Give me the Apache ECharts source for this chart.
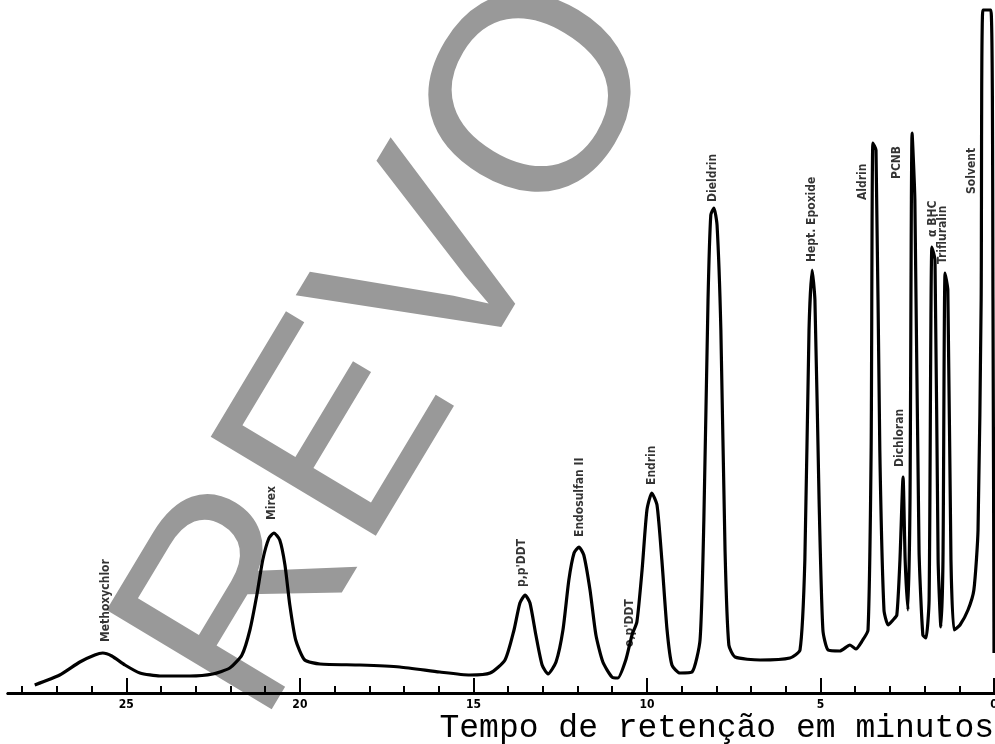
<!DOCTYPE html>
<html>
<head>
<meta charset="utf-8">
<script src="https://cdn.jsdelivr.net/npm/echarts@6/dist/echarts.min.js"></script>
<style>
html,body{margin:0;padding:0;background:#fff;}
#chart{width:995px;height:744px;}
</style>
</head>
<body>
<div id="chart"></div>
<script>
// Retention time (minutes) and detector signal
const times = [27.64, 26.92, 26.34, 25.91, 25.68, 25.42, 25.04, 24.61, 24.03, 23.17, 22.51, 22.02, 21.67, 21.44, 21.24, 21.07, 20.89, 20.75, 20.58, 20.43, 20.29, 20.12, 19.86, 19.42, 18.27, 17.12, 15.97, 15.10, 14.52, 14.09, 13.83, 13.66, 13.51, 13.37, 13.20, 13.02, 12.85, 12.62, 12.42, 12.25, 12.10, 11.96, 11.82, 11.64, 11.47, 11.27, 11.01, 10.84, 10.61, 10.43, 10.29, 10.14, 10.00, 9.86, 9.71, 9.57, 9.42, 9.28, 9.05, 8.70, 8.47, 8.36, 8.24, 8.16, 8.07, 7.98, 7.87, 7.75, 7.64, 7.46, 6.74, 5.88, 5.59, 5.45, 5.33, 5.24, 5.16, 5.04, 4.93, 4.78, 4.44, 4.15, 3.98, 3.80, 3.63, 3.54, 3.49, 3.40, 3.29, 3.17, 3.05, 2.91, 2.80, 2.71, 2.62, 2.56, 2.48, 2.42, 2.36, 2.28, 2.16, 2.05, 1.96, 1.87, 1.79, 1.70, 1.61, 1.53, 1.47, 1.41, 1.33, 1.24, 1.15, 0.98, 0.75, 0.58, 0.46, 0.37, 0.32, 0.09, 0.03, 0.00];
const signal = [8, 18, 31, 38, 40, 37, 28, 20, 17, 17, 19, 25, 38, 63, 98, 133, 155, 160, 153, 128, 88, 53, 33, 29, 28, 26, 21, 18, 20, 33, 63, 90, 98, 90, 58, 28, 19, 31, 63, 113, 140, 146, 138, 103, 58, 31, 16, 15, 33, 58, 71, 123, 183, 200, 188, 133, 63, 28, 20, 21, 53, 173, 393, 478, 485, 468, 363, 143, 48, 36, 33, 35, 43, 133, 363, 423, 393, 193, 63, 43, 42, 48, 44, 52, 63, 243, 550, 543, 243, 83, 68, 73, 78, 133, 216, 133, 83, 193, 560, 493, 143, 58, 55, 93, 446, 433, 133, 66, 133, 420, 403, 133, 63, 68, 83, 103, 163, 393, 683, 683, 393, 40];

// Peak annotations (compound name, retention time, height of label foot)
const peakNames = ['Methoxychlor', 'Mirex', "p,p'DDT", 'Endosulfan II', "o,p'DDT", 'Endrin', 'Dieldrin', 'Hept. Epoxide', 'Aldrin', 'PCNB', 'Dichloran', 'α BHC', 'Trifluralin', 'Solvent'];
const peakTimes = [25.59, 20.81, 13.60, 11.93, 10.49, 9.86, 8.10, 5.24, 3.78, 2.80, 2.71, 1.76, 1.47, 0.63];
const peakLabelHeights = [48, 170, 103, 153, 43, 205, 488, 428, 490, 511, 223, 453, 426, 496];

// Axis ticks
const majorTicks = [0, 5, 10, 15, 20, 25];
const minorTicks = [0, 1, 2, 3, 4, 5, 6, 7, 8, 9, 10, 11, 12, 13, 14, 15, 16, 17, 18, 19, 20, 21, 22, 23, 24, 25, 26, 27, 28];

const axisTitle = 'Tempo de retenção em minutos';
const watermark = 'REVO';

const traceData = times.map((t, i) => [t, signal[i]]);
const labelData = peakNames.map((n, i) => ({ name: n, value: [peakTimes[i], peakLabelHeights[i]] }));

const chart = echarts.init(document.getElementById('chart'), null, { renderer: 'canvas' });

const baseX = {
  type: 'value', min: 0, max: 28.41, inverse: true, position: 'bottom',
  splitLine: { show: false },
  axisLine: { show: true, onZero: false, lineStyle: { color: '#000', width: 3 } }
};

chart.setOption({
  animation: false,
  backgroundColor: '#fff',
  grid: { left: 8, right: 1, top: 0, bottom: 51, containLabel: false, outerBoundsMode: 'none' },
  xAxis: [
    Object.assign({}, baseX, {
      axisTick: { show: true, inside: true, length: 7, customValues: minorTicks, lineStyle: { color: '#000', width: 2 } },
      axisLabel: { show: false }
    }),
    Object.assign({}, baseX, {
      axisTick: { show: true, inside: true, length: 15, customValues: majorTicks, lineStyle: { color: '#000', width: 2 } },
      axisLabel: {
        show: true, customValues: majorTicks, margin: 6,
        color: '#000', fontSize: 12, fontWeight: 'bold', fontFamily: 'DejaVu Sans Condensed'
      }
    })
  ],
  yAxis: { type: 'value', min: 0, max: 693, show: false },
  graphic: [
    {
      type: 'text', x: 398, y: 349, rotation: 59 * Math.PI / 180, z: 0, silent: true,
      style: { text: watermark, fill: '#999999', font: 'normal 280px "Liberation Sans"', textAlign: 'center', textVerticalAlign: 'middle' }
    },
    {
      type: 'text', x: 994, y: 728, z: 10, silent: true,
      style: { text: axisTitle, fill: '#000', font: 'normal 33px "Liberation Mono"', textAlign: 'right', textVerticalAlign: 'middle' }
    }
  ],
  series: [
    {
      type: 'line', xAxisIndex: 0, data: traceData, showSymbol: false, symbol: 'none',
      smooth: 0.2, z: 5,
      lineStyle: { color: '#000', width: 3.2 }
    },
    {
      type: 'scatter', xAxisIndex: 0, data: labelData, symbolSize: 1, z: 6,
      itemStyle: { color: 'rgba(0,0,0,0)' },
      label: {
        show: true, formatter: '{b}', position: 'inside', rotate: 90, offset: [3, 0],
        align: 'left', verticalAlign: 'middle',
        color: '#000', fontSize: 12, fontWeight: 'bold', fontFamily: 'DejaVu Sans Condensed'
      }
    }
  ]
});
</script>
</body>
</html>
